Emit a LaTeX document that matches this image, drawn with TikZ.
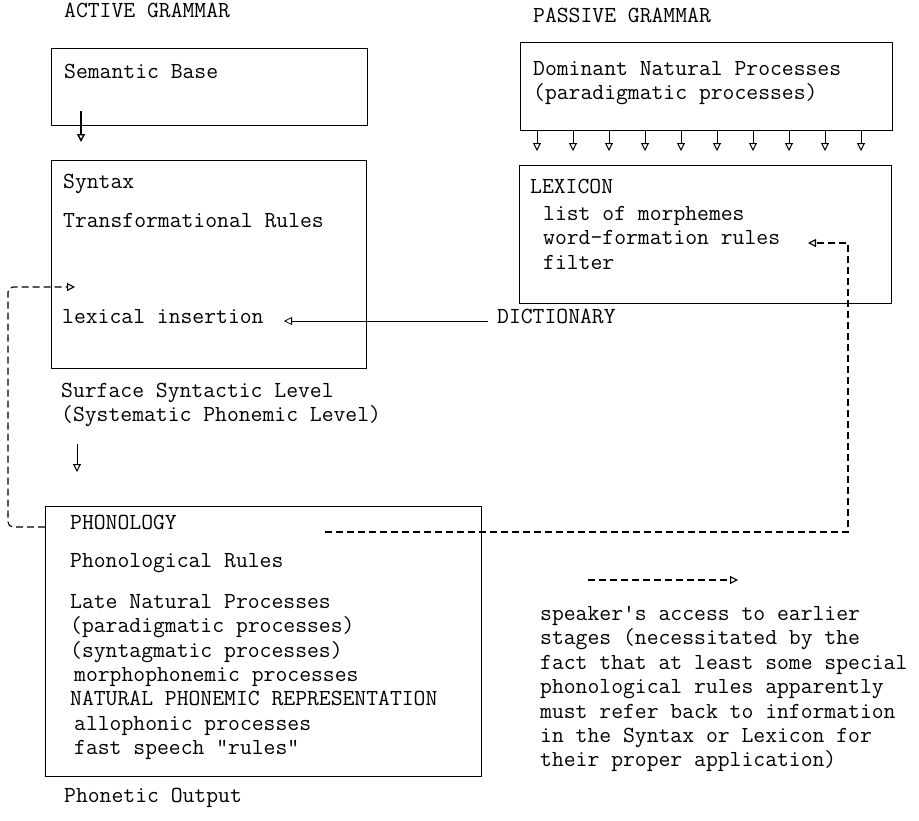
\documentclass[tikz,border=0pt]{standalone}
\usepackage{fontspec}
\usetikzlibrary{arrows.meta}
\begin{document}
\begin{tikzpicture}[x=1pt,y=-1pt,
  txt/.style={font=\ttfamily\fontsize{23}{24.4}\selectfont, inner sep=0pt, anchor=mid west, align=left},
  box/.style={draw, line width=1.1pt, inner sep=0pt, anchor=north west},
  arr/.style={line width=1pt, -{Triangle[open, length=8pt, width=8pt]}},
  darr/.style={line width=1.1pt, dash pattern=on 7pt off 4pt, -{Triangle[open, length=8pt, width=8pt]}}]
\useasboundingbox (0,0) rectangle (919,820);
% boxes
\node[box, minimum width=316pt, minimum height=77pt] (sem) at (51,48) {};
\node[box, minimum width=315pt, minimum height=208pt] (syn) at (51,160) {};
\node[box, minimum width=372pt, minimum height=88pt] (dom) at (520,42) {};
\node[box, minimum width=372pt, minimum height=138pt] (lex) at (519,165) {};
\node[box, minimum width=436pt, minimum height=270pt] (pho) at (45,506) {};
% headings
\node[txt] (act) at (64,15) {ACTIVE GRAMMAR};
\node[txt] (pas) at (533,20) {PASSIVE GRAMMAR};
% active texts
\node[txt] (semt) at (64,76) {Semantic Base};
\node[txt] (synt) at (63,186) {Syntax};
\node[txt] (trt) at (63,225) {Transformational Rules};
\node[txt] (lext) at (62,321) {lexical insertion};
\node[txt, anchor=north west] (surf) at (61,383) {Surface Syntactic Level\\(Systematic Phonemic Level)};
% passive texts
\node[txt, anchor=north west] (domt) at (533,61) {Dominant Natural Processes\\(paradigmatic processes)};
\node[txt] (lexh) at (530,191) {LEXICON};
\node[txt, anchor=north west] (lexl) at (543,206) {list of morphemes\\word-formation rules\\filter};
\node[txt] (dict) at (497,321) {DICTIONARY};
% phonology texts
\node[txt] (phh) at (70,527) {PHONOLOGY};
\node[txt] (phr) at (70,565) {Phonological Rules};
\node[txt, anchor=north west] (phl) at (70,594) {Late Natural Processes\\(paradigmatic processes)\\(syntagmatic processes)\\\hspace*{4pt}morphophonemic processes\\NATURAL PHONEMIC REPRESENTATION\\\hspace*{4pt}allophonic processes\\\hspace*{4pt}fast speech "rules"};
\node[txt] (pout) at (64,800) {Phonetic Output};
% legend
\node[txt, anchor=north west] (leg) at (540,606) {speaker's access to earlier\\stages (necessitated by the\\fact that at least some special\\phonological rules apparently\\must refer back to information\\in the Syntax or Lexicon for\\their proper application)};
\coordinate (la) at (588,580);
\coordinate (lb) at (738,580);
\draw[darr] (la) -- (lb);
% solid arrows
\coordinate (s1) at (81,111);
\coordinate (s2) at (81,142);
\draw[arr, line width=1.4pt] (s1) -- (s2);
\coordinate (u1) at (77,444);
\coordinate (u2) at (77,472);
\draw[arr] (u1) -- (u2);
\foreach \i in {0,...,9} {
  \coordinate (d\i) at (537+36*\i,131);
  \draw[arr] (d\i) -- ++(0,20);
}
\coordinate (lexin) at (284,321);
\coordinate (dictin) at (488,321);
\draw[arr, line width=0.8pt] (dictin) -- (lexin);
% dashed feedback lines
\coordinate (tl) at (8,287);
\coordinate (tr) at (75,287);
\draw[darr, rounded corners=5pt] (pho.west |- phh.mid) -- (8,527) -- (tl) -- (tr);
\coordinate (rx) at (848,532);
\coordinate (rt) at (808,243);
\draw[darr] (325,532) -- (rx) -- (848,243) -- (rt);
\end{tikzpicture}
\end{document}
